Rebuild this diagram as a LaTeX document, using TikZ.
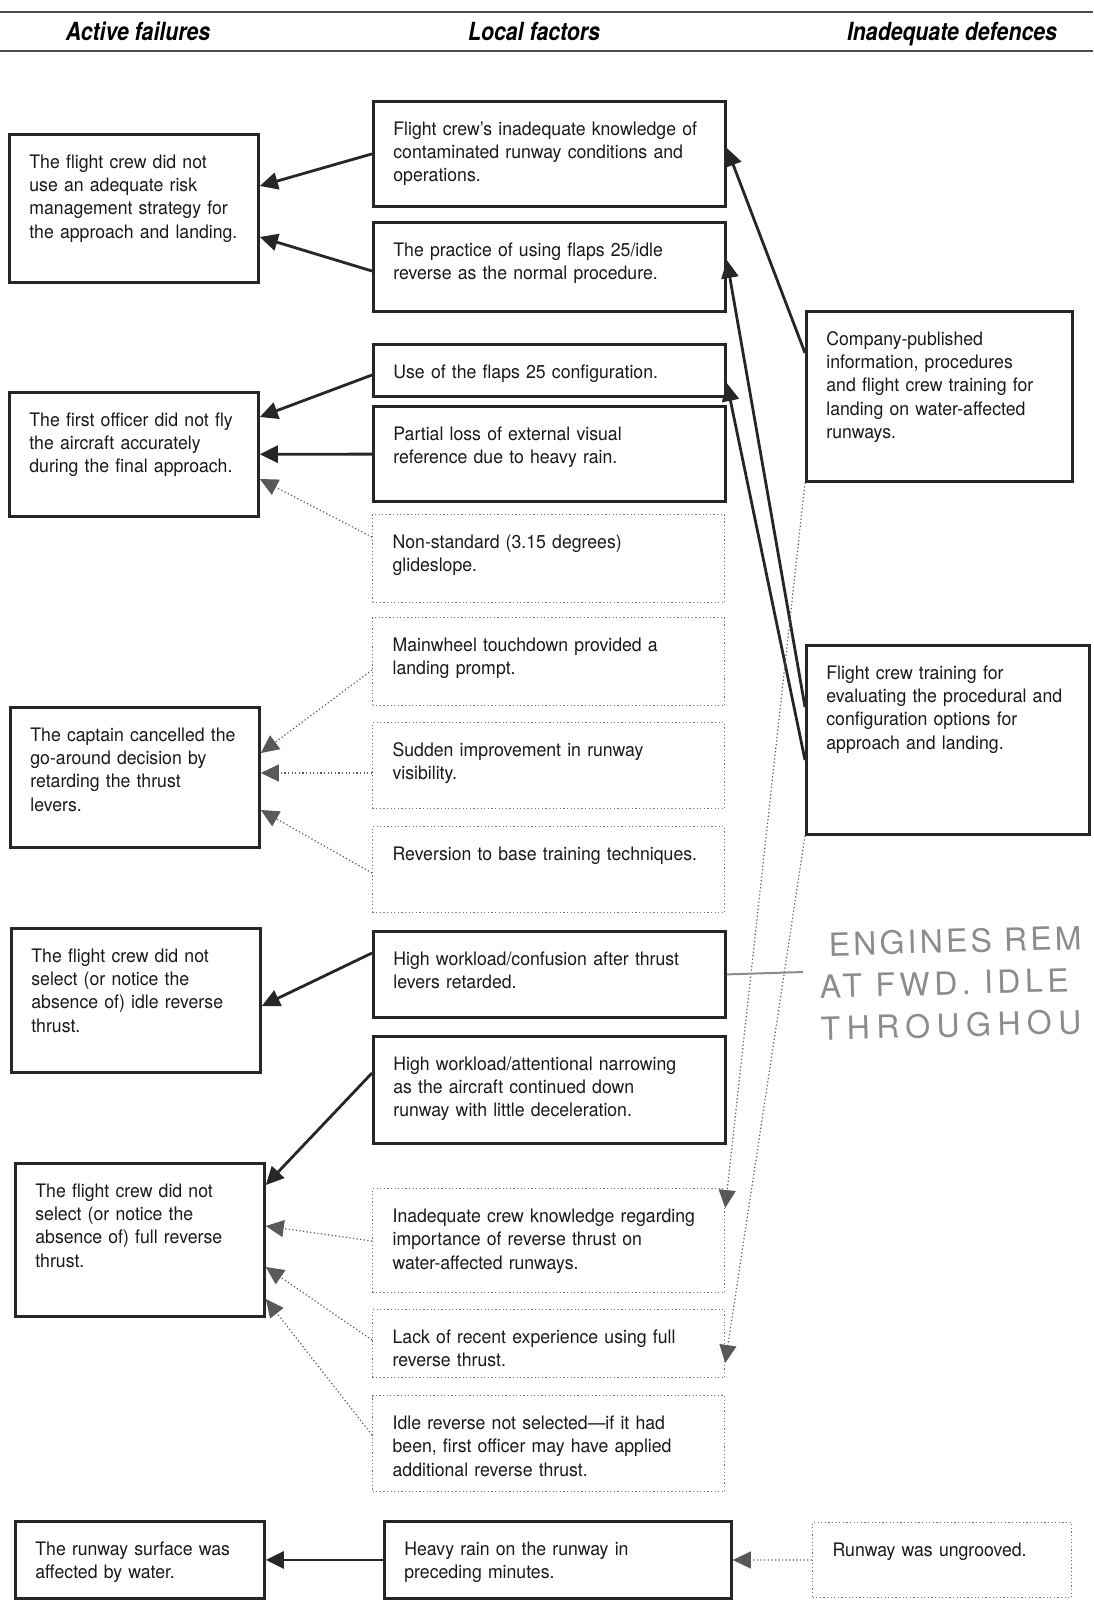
\documentclass[tikz,border=0pt]{standalone}
\usepackage{fontspec}
\setmainfont{TeX Gyre Heros}[FakeStretch=0.95]
\newfontfamily\headfont{TeX Gyre Heros}[FakeStretch=0.85]
\newfontfamily\handfont{TeX Gyre Heros}
\usetikzlibrary{arrows.meta}

\begin{document}
\begin{tikzpicture}[x=0.5pt,y=-0.5pt,>={Triangle[length=9pt,width=8.5pt]},font=\fontsize{9.3}{11.6}\selectfont]
		\tikzstyle{box}=[rectangle, draw=black!85, line width=1.4pt, anchor=north west, align=left, inner xsep=10pt, inner ysep=8pt, text height=9pt, text=black!90]
		\tikzstyle{weak}=[draw=black!55, line width=0.6pt, dash pattern=on 0.6pt off 1.2pt]
		\tikzstyle{failure}=[box, text width=104.5pt]
		\tikzstyle{factor}=[box, text width=156pt]
		\tikzstyle{defence}=[box, text width=113pt]
		\tikzstyle{post}=[->, line width=1.4pt, draw=black!85]
		\tikzstyle{post weak}=[->, line width=0.6pt, draw=black!65, dash pattern=on 0.6pt off 1.2pt]
		\tikzstyle{head}=[anchor=base, font=\headfont\fontsize{12.5}{14}\selectfont\bfseries\itshape]
		\tikzstyle{note}=[anchor=north west, inner sep=0pt, align=left, rotate=1.5, text=black!45, font=\handfont\fontsize{16}{21}\selectfont]

		\useasboundingbox (0,0) rectangle (1093,1601);
		\draw [black!70, line width=0.6pt] (0,12) -- (1093,12);
		\draw [black!70, line width=0.6pt] (0,51) -- (1093,51);

		\node [head] (hf) at (138,40) {Active failures};
		\node [head] (hl) at (534,40) {Local factors};
		\node [head] (hd) at (952,40) {Inadequate defences};

		\node [failure, text depth=49pt] (a1) at (8,133) {The flight crew did not\\use an adequate risk\\management strategy for\\the approach and landing.};
		\node [failure, text depth=37pt] (a2) at (8,391) {The first officer did not fly\\the aircraft accurately\\during the final approach.};
		\node [failure, text depth=45pt] (a3) at (9,706) {The captain cancelled the\\go-around decision by\\retarding the thrust\\levers.};
		\node [failure, text depth=47pt] (a4) at (10,927) {The flight crew did not\\select (or notice the\\absence of) idle reverse\\thrust.};
		\node [failure, text depth=51.5pt] (a5) at (14,1162) {The flight crew did not\\select (or notice the\\absence of) full reverse\\thrust.};
		\node [failure, text depth=13.5pt] (a6) at (14,1520) {The runway surface was\\affected by water.};

		\node [factor, text depth=27.5pt] (l1) at (372,100) {Flight crew's inadequate knowledge of\\contaminated runway conditions and\\operations.};
		\node [factor, text depth=19.5pt] (l2) at (372,221) {The practice of using flaps 25/idle\\reverse as the normal procedure.};
		\node [factor, text depth=1pt] (l3) at (372,343) {Use of the flaps 25 configuration.};
		\node [factor, text depth=22.5pt] (l4) at (372,405) {Partial loss of external visual\\reference due to heavy rain.}
		edge [post]             (a2);
		\node [factor, weak, text depth=19pt] (l5) at (372,514) {Non-standard (3.15 degrees)\\glideslope.};
		\node [factor, weak, text depth=19pt] (l6) at (372,617) {Mainwheel touchdown provided a\\landing prompt.};
		\node [factor, weak, text depth=18pt] (l7) at (372,722) {Sudden improvement in runway\\visibility.};
		\node [factor, weak, text depth=18pt] (l8) at (372,826) {Reversion to base training techniques.};
		\node [factor, text depth=18pt] (l9) at (372,930) {High workload/confusion after thrust\\levers retarded.};
		\node [factor, text depth=28.5pt] (l10) at (372,1035) {High workload/attentional narrowing\\as the aircraft continued down\\runway with little deceleration.};
		\node [factor, weak, text depth=27pt] (l11) at (372,1188) {Inadequate crew knowledge regarding\\importance of reverse thrust on\\water-affected runways.};
		\node [factor, weak, text depth=9pt] (l12) at (372,1309) {Lack of recent experience using full\\reverse thrust.};
		\node [factor, weak, text depth=23pt] (l13) at (372,1395) {Idle reverse not selected---if it had\\been, first officer may have applied\\additional reverse thrust.};
		\node [factor, text depth=13.5pt, text width=153.5pt] (l14) at (383,1520) {Heavy rain on the runway in\\preceding minutes.}
		edge [post]             (a6);

		\node [defence, text depth=60pt] (d1) at (805,310) {Company-published\\information, procedures\\and flight crew training for\\landing on water-affected\\runways.};
		\node [defence, text depth=69.5pt, text width=121.5pt] (d2) at (805,644) {Flight crew training for\\evaluating the procedural and\\configuration options for\\approach and landing.};
		\node [defence, weak, text depth=12.5pt, text width=109.5pt] (d3) at (812,1522) {Runway was ungrooved.}
		edge [post weak]        (l14);

		\draw [post] (l1.west) -- ([yshift=-26.5pt]a1.north east);
		\draw [post] ([yshift=-25pt]l2.north west) -- ([yshift=-52pt]a1.north east);
		\draw [post] ([yshift=-16pt]l3.north west) -- ([yshift=-13pt]a2.north east);
		\draw [post weak] ([yshift=-11.5pt]l5.north west) -- ([yshift=-44pt]a2.north east);
		\draw [post weak] ([yshift=-26.5pt]l6.north west) -- ([yshift=-23.5pt]a3.north east);
		\draw [post weak] ([yshift=-25.5pt]l7.north west) -- ([yshift=-33.5pt]a3.north east);
		\draw [post weak] ([yshift=-23.5pt]l8.north west) -- ([yshift=-52pt]a3.north east);
		\draw [post] ([yshift=-11.5pt]l9.north west) -- ([yshift=-39.5pt]a4.north east);
		\draw [post] ([yshift=-19pt]l10.north west) -- ([yshift=-11.5pt]a5.north east);
		\draw [post weak] ([yshift=-26.5pt]l11.north west) -- ([yshift=-32pt]a5.north east);
		\draw [post weak] ([yshift=-15.5pt]l12.north west) -- ([yshift=-52.5pt]a5.north east);
		\draw [post weak] ([yshift=-20pt]l13.north west) -- ([yshift=-68.5pt]a5.north east);

		\draw [post] ([yshift=-21.5pt]d1.north west) -- ([yshift=-24pt]l1.north east);
		\draw [post] ([yshift=-31.5pt]d2.north west) -- ([yshift=-19.5pt]l2.north east);
		\draw [post] ([yshift=-58pt]d2.north west) -- ([yshift=-20pt]l3.north east);
		\draw [post weak] (d1.south west) -- ([yshift=-10pt]l11.north east);
		\draw [post weak] (d2.south west) -- ([yshift=-27pt]l12.north east);

		\node [note] (note) at (818,932) {\hspace*{5pt}\addfontfeature{LetterSpace=10}ENGINES REM\\\addfontfeature{LetterSpace=14}AT FWD. IDLE\\\addfontfeature{LetterSpace=20}THROUGHOU};
		\coordinate (nt) at (803,972);
		\draw [black!45, line width=1pt] (l9.east) -- (nt);
	\end{tikzpicture}
\end{document}
